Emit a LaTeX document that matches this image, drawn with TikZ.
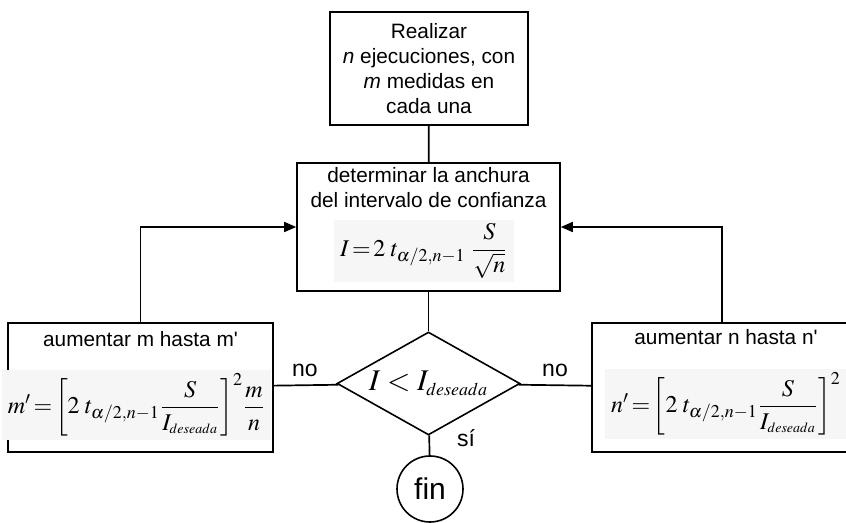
\documentclass[tikz,border=0pt]{standalone}
\usepackage{amsmath}
\usepackage{mathptmx}
\usepackage[no-math]{fontspec}
\setmainfont{Liberation Sans}
\usepackage{xcolor}
\usetikzlibrary{positioning,shapes.geometric,arrows.meta}

\definecolor{eqbg}{HTML}{F6F6F6}

\newcommand{\Ides}{I_{\scriptscriptstyle deseada}}

\tikzset{
  caja/.style={draw, line width=0.8pt, inner sep=0pt},
  texto/.style={font=\fontsize{10.4}{12.5}\selectfont, align=center, inner sep=0pt},
  etiqueta/.style={font=\fontsize{11.5}{13}\selectfont, inner sep=0pt, anchor=base},
  ecuacion/.style={fill=eqbg, inner xsep=3pt, inner ysep=2pt, font=\fontsize{12}{14}\selectfont},
  linea/.style={line width=0.85pt},
  flecha/.style={linea, -{Triangle[length=6pt,width=5pt]}},
}

\begin{document}
\begin{tikzpicture}[x=0.5pt,y=-0.5pt]
  \useasboundingbox (0,0) rectangle (846,523);

  % Caja inicial
  \node[caja, texto, minimum width=99pt, minimum height=56.5pt] (realizar) at (429,68.5)
    {Realizar\\\textit{n} ejecuciones, con\\\textit{m} medidas en\\cada una};

  % Anchura del intervalo
  \node[caja, minimum width=131.5pt, minimum height=64pt] (anchura) at (428.5,227) {};
  \node[texto] (anchuratxt) at (428.5,188) {determinar la anchura\\del intervalo de confianza};
  \node[ecuacion] (anchuraeq) at (424,251)
    {$I\!=\!2\;t_{\alpha/2,n-1}\;\dfrac{S}{\sqrt{n}}$};

  % Decision y fin
  \node[caja, diamond, aspect=1.78, minimum width=91.5pt, minimum height=51.5pt,
    font=\fontsize{15}{17}\selectfont] (decision) at (428.5,383.5) {$I < \Ides$};
  \node[caja, circle, minimum size=33pt, font=\fontsize{15}{18}\selectfont] (fin) at (430,489) {fin};

  % Aumentar m
  \node[caja, minimum width=132.5pt, minimum height=64.5pt] (aumm) at (140.5,387.5) {};
  \node[texto, anchor=base] (aummtxt) at (140.5,347) {aumentar m hasta m\textquotesingle};
  \node[ecuacion] (aummeq) at (136.5,405)
    {$m'\!=\!\left[2\;t_{\alpha/2,n-1}\dfrac{S}{\Ides}\right]^{2}\!\dfrac{m}{n}$};

  % Aumentar n
  \node[caja, minimum width=130pt, minimum height=64.5pt] (aumn) at (722,387.5) {};
  \node[texto, anchor=base] (aumntxt) at (726,345) {aumentar n hasta n\textquotesingle};
  \node[ecuacion] (aumneq) at (726,404)
    {$n'\!=\!\left[2\;t_{\alpha/2,n-1}\dfrac{S}{\Ides}\right]^{2}$};

  % Conexiones
  \draw[linea] (realizar) -- (anchura);
  \draw[linea] (anchura) -- (decision);
  \draw[linea] (decision) -- (fin);
  \draw[linea] (decision) -- (aumm);
  \draw[linea] (decision) -- (aumn);
  \draw[flecha] (aumm.north) |- (anchura.west);
  \draw[flecha] (aumn.north) |- (anchura.east);

  % Etiquetas de las ramas
  \node[etiqueta] (noizq) at (305,377) {no};
  \node[etiqueta] (noder) at (555,377) {no};
  \node[etiqueta] (si) at (466,447) {sí};
\end{tikzpicture}
\end{document}
